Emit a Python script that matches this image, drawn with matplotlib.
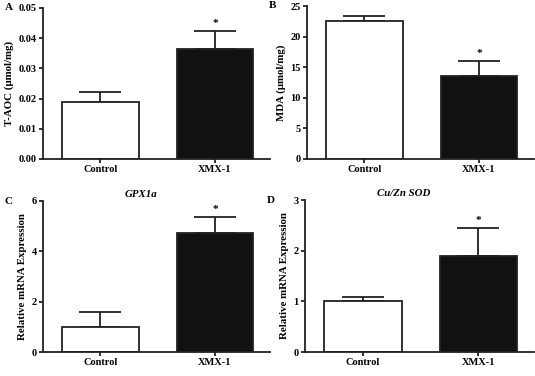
import numpy as np
import matplotlib.pyplot as plt

plt.rcParams['font.family'] = ['Liberation Serif', 'DejaVu Serif']
plt.rcParams['font.weight'] = 'bold'
plt.rcParams['font.size'] = 7.5

groups = ["Control", "XMX-1"]

taoc = [0.019, 0.0364]
taoc_err = [0.0032, 0.0061]
mda = [22.5, 13.5]
mda_err = [0.9, 2.5]
gpx = [1.0, 4.71]
gpx_err = [0.6, 0.66]
sod = [1.01, 1.90]
sod_err = [0.08, 0.54]

panels = [
    ("A", taoc, taoc_err, "T-AOC (μmol/mg)", [0, 0.01, 0.02, 0.03, 0.04, 0.05],
     ["0.00", "0.01", "0.02", "0.03", "0.04", "0.05"], None,
     [43, 8, 270, 159]),
    ("B", mda, mda_err, "MDA (μmol/mg)", [0, 5, 10, 15, 20, 25],
     ["0", "5", "10", "15", "20", "25"], None,
     [307, 6, 534, 159]),
    ("C", gpx, gpx_err, "Relative mRNA Expression", [0, 2, 4, 6],
     ["0", "2", "4", "6"], "GPX1a",
     [43, 201, 270, 352]),
    ("D", sod, sod_err, "Relative mRNA Expression", [0, 1, 2, 3],
     ["0", "1", "2", "3"], "Cu/Zn SOD",
     [305, 200, 534, 352]),
]

W, H = 535, 376
fig = plt.figure(figsize=(W / 100, H / 100), dpi=100)
edge = "#222222"

for letter, vals, errs, ylab, yt, ytl, title, (x0, y0, x1, y1) in panels:
    ax = fig.add_axes([x0 / W, 1 - y1 / H, (x1 - x0) / W, (y1 - y0) / H])
    x = np.arange(len(groups))
    ax.bar(x, vals, width=0.67, color=["white", "#111111"], edgecolor=edge, linewidth=1.3, zorder=2)
    ax.errorbar(x, vals, yerr=[np.zeros(len(errs)), errs], fmt="none", ecolor=edge,
                elinewidth=1.3, capsize=15, capthick=1.3, zorder=1)
    ymax = yt[-1]
    ax.set_ylim(0, ymax)
    ax.set_xlim(-0.5, 1.48)
    ax.set_yticks(yt)
    ax.set_yticklabels(ytl)
    ax.set_xticks(x)
    ax.set_xticklabels(groups)
    ax.set_ylabel(ylab, fontweight="bold", fontsize=7.8, labelpad=3)
    for s in ["top", "right"]:
        ax.spines[s].set_visible(False)
    for s in ["left", "bottom"]:
        ax.spines[s].set_linewidth(1.3)
        ax.spines[s].set_color(edge)
    ax.tick_params(axis="both", direction="out", width=1.3, color=edge, length=3, pad=1.5)
    ax.patch.set_alpha(0)
    # significance star on XMX-1
    ax.text(1, vals[1] + errs[1] + ymax * 0.02, "*", ha="center", va="bottom", fontsize=8)
    ax.text(-0.15, 1.0, letter, transform=ax.transAxes, ha="center", va="center", fontsize=8)
    if title:
        ax.text(0.43, 1.04, title, transform=ax.transAxes, ha="center", va="center",
                style="italic", fontsize=7.8)

fig.savefig("out.png", dpi=100)
